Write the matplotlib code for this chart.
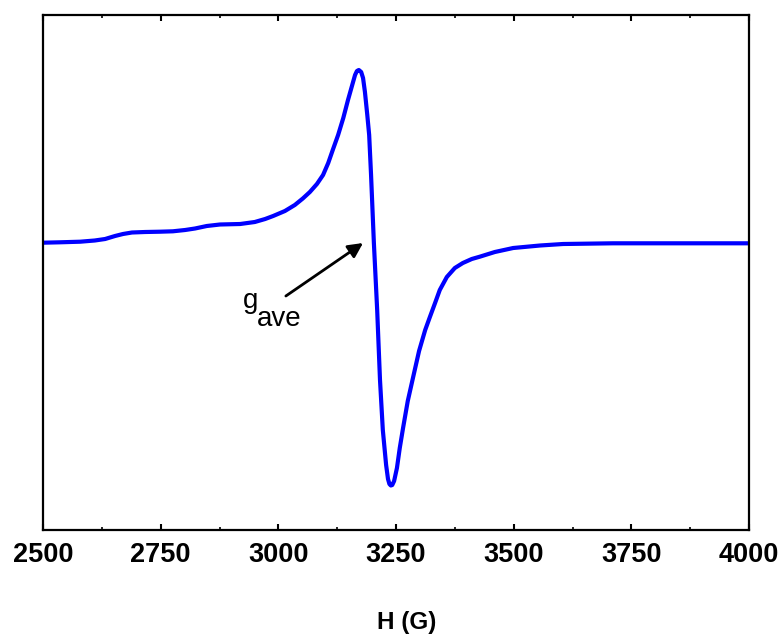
import matplotlib
matplotlib.use("Agg")
import matplotlib.pyplot as plt
from matplotlib.ticker import MultipleLocator

plt.rcParams['font.family'] = ['Liberation Sans', 'DejaVu Sans']

# EPR derivative spectrum, field in gauss, intensity in arbitrary units
field = [2500, 2536, 2579, 2610, 2632, 2653, 2670, 2689, 2717, 2749,
         2776, 2802, 2823, 2848, 2876, 2919, 2950, 2972, 2989, 3014,
         3035, 3052, 3067, 3082, 3095, 3106, 3116, 3127, 3138, 3148,
         3157, 3163, 3167, 3171, 3176, 3180, 3184, 3189, 3193, 3197,
         3203, 3210, 3216, 3222, 3229, 3233, 3236, 3239, 3242, 3246,
         3252, 3258, 3265, 3275, 3286, 3299, 3312, 3322, 3333, 3343,
         3358, 3375, 3392, 3411, 3428, 3460, 3499, 3556, 3605, 3711,
         4000]
signal = [0.3, 0.7, 1.3, 2.5, 4, 7, 9, 10.5, 11, 11.3,
          11.7, 13, 14.5, 17, 18.5, 19, 21, 24, 27, 32,
          38, 44.5, 51, 59, 68, 80, 93.5, 108, 125, 143,
          158, 168, 172, 173, 171, 165, 151, 128, 108, 68,
          0, -67, -137, -187, -222, -236, -241, -242.5, -242, -238,
          -225, -205, -185, -158, -135, -108, -87, -74, -60, -47,
          -34, -25, -20, -16, -13.7, -9, -5, -2.5, -1, -0.3,
          -0.3]

xticks = [2500, 2750, 3000, 3250, 3500, 3750, 4000]

fig = plt.figure(figsize=(7.84, 6.38), dpi=100)
ax = fig.add_axes([43 / 784, 108 / 638, 706 / 784, 515 / 638])

ax.plot(field, signal, color='#0000FF', lw=3, solid_joinstyle='round')

ax.set_xlim(2500, 4000)
ax.set_ylim(-287, 228)
ax.set_xticks(xticks)
ax.set_xticklabels([str(t) for t in xticks], fontsize=19.5, fontweight='bold')
ax.xaxis.set_minor_locator(MultipleLocator(125))
ax.set_yticks([])

ax.tick_params(axis='x', which='major', direction='in', length=4, width=1.5,
               top=True, pad=9)
ax.tick_params(axis='x', which='minor', direction='in', length=2, width=1.2,
               top=True)
for s in ax.spines.values():
    s.set_linewidth(1.6)

# arrow marking the average g value
ax.annotate('', xy=(3180, 0), xytext=(3016, -53),
            arrowprops=dict(arrowstyle='-|>', color='black', lw=2,
                            mutation_scale=22, shrinkA=0, shrinkB=0))
ax.text(2924, -65, 'g', fontsize=20, ha='left', va='baseline')
ax.text(2954, -83, 'ave', fontsize=20, ha='left', va='baseline')

fig.text(407 / 784, 1 - 622 / 638, 'H (G)', fontsize=17.5, fontweight='bold',
         ha='center', va='center')

fig.savefig('out.png', dpi=100)
